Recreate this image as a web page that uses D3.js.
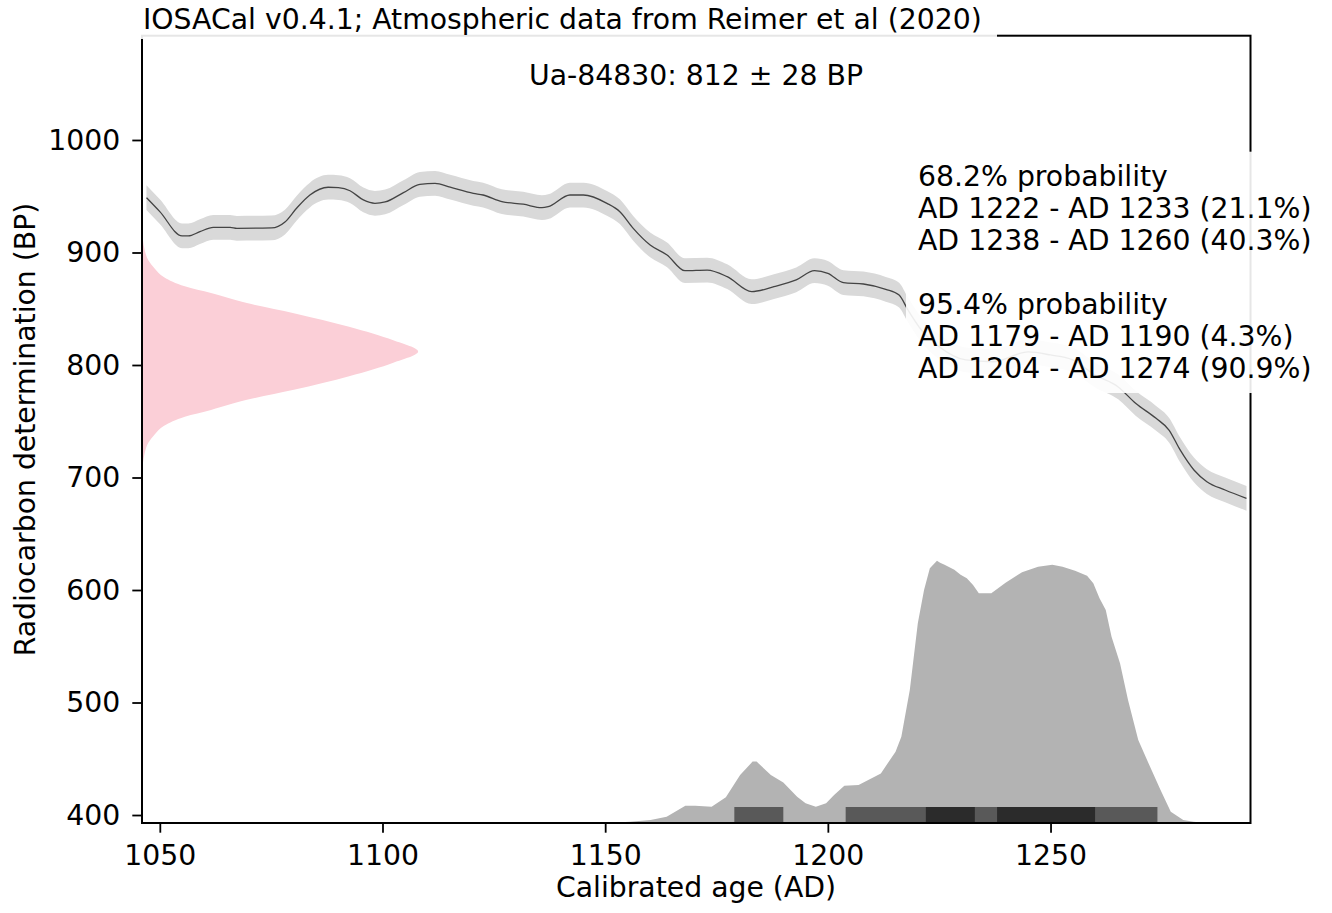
<!DOCTYPE html>
<html><head><meta charset="utf-8">
<script src="https://cdn.jsdelivr.net/npm/d3@7"></script>
<style>
html,body{margin:0;padding:0;background:#fff;}
svg text{font-family:"DejaVu Sans",sans-serif;fill:#000;}
</style></head><body>
<svg id="chart" width="1332" height="913"></svg>
<script>
// ---------------- data ----------------
const titleText = "IOSACal v0.4.1; Atmospheric data from Reimer et al (2020)";
const sampleLabel = "Ua-84830: 812 ± 28 BP";
const xLabel = "Calibrated age (AD)";
const yLabel = "Radiocarbon determination (BP)";
const xTicks = [1050, 1100, 1150, 1200, 1250];
const yTicks = [400, 500, 600, 700, 800, 900, 1000];

// calibration curve (IntCal20)
const curveYears = [1047,1050,1055,1056.4,1059,1062,1065.8,1067.3,1075.1,1078.1,1080.7,1083.7,1087.8,1090.1,1092.7,1095.7,1098.3,1100.6,1104.7,1108.4,1111.8,1115.2,1120.4,1122.6,1126.8,1131.6,1135.8,1137.2,1142.1,1145.1,1150.4,1153.3,1156.3,1160.1,1163.9,1167.9,1172.9,1177.4,1182.9,1187.9,1192.9,1197,1200,1203.5,1208,1213,1216,1218,1221,1225,1231,1237,1245,1250,1255,1260,1265.2,1269.1,1273.7,1276.6,1279.1,1282.2,1285.1,1289.2,1294];
const curveBP = [948.7,936.3,914.7,914.7,918.5,922.4,922.4,921.5,921.8,927.1,939.3,951.1,958,957.6,954.9,946.7,943.7,944.9,953.2,960.6,961.5,958,952.6,951.1,945.2,942.9,939.8,940.7,951.1,951.1,943.7,936.3,921.5,906.7,897.8,883.8,884.4,878.5,865.2,869.6,875.6,883.8,881.5,873.2,872,867.3,862.2,848.9,831.1,816.3,804.5,802.9,811.6,808.9,804.5,791.1,780.5,766,752.6,742.2,724.5,706.7,696.3,688.9,681.5];
const curveErr = [11,11,11,11,11,11,11,11,11,11,11,11,11,11,11,11,11,11,11,11,11,11,11,11,11,11,11,11,11,11,11,11,11,11,11,11,11,11,11,11,11,11,11,11,11,11,11,11,11,11,11,11,11,11,11,11,11,11,11,11,11,11,11,11,11];

// radiocarbon date distribution (relative density by BP)
const pinkBP  = [700,712,722,731,738,746,754,760,769,778,790,802,812,822,834,846,855,864,870,878,886,893,902,912,924];
const pinkRel = [0,0.003,0.01,0.023,0.045,0.080,0.155,0.250,0.380,0.550,0.750,0.910,1,0.910,0.750,0.550,0.380,0.250,0.155,0.080,0.045,0.023,0.01,0.003,0];

// calibrated distribution (relative probability by calendar year)
const calYears = [1150,1155.6,1160.2,1163.8,1168,1170.2,1173.9,1177.1,1180.3,1183.1,1184,1187.2,1190,1193.1,1195,1197.3,1199.6,1201.4,1203.7,1206.9,1210.6,1211.9,1215.2,1216.5,1218.4,1220.2,1221.6,1222.9,1224.5,1225.2,1226.2,1228.4,1229.8,1231.2,1232.6,1233.9,1236.7,1239.9,1243.6,1247.2,1250.4,1252.7,1255.5,1258.2,1259.6,1261,1262.4,1263.7,1265.6,1267.4,1269.7,1272,1274.7,1277,1279.8,1282.1,1285];
const calProb  = [0,0.005,0.011,0.024,0.066,0.066,0.062,0.098,0.183,0.234,0.234,0.183,0.154,0.100,0.075,0.062,0.075,0.107,0.142,0.145,0.177,0.189,0.272,0.329,0.507,0.761,0.888,0.971,1.0,0.992,0.984,0.965,0.946,0.933,0.907,0.876,0.876,0.916,0.956,0.977,0.984,0.977,0.961,0.942,0.914,0.857,0.812,0.710,0.609,0.469,0.316,0.228,0.126,0.043,0.011,0.005,0];

// highest density ranges: [from, to, percent]
const hpd68 = [[1222, 1233, 21.1], [1238, 1260, 40.3]];
const hpd95 = [[1179, 1190, 4.3], [1204, 1274, 90.9]];
const hpdLevels = ["68.2% probability", "95.4% probability"];

// ---------------- layout ----------------
const L = 142, R = 1250.5, T = 35.7, B = 823;
const xDomain = [1046, 1294.9];
const yDomain = [392.9, 1092.7];
const FS = 28.3;
const pinkWidthYears = 62;     // peak width of date pdf in years
const calHeightBP = 233.2;     // peak height of calibrated pdf in BP units

const svg = d3.select("#chart");
const x = d3.scaleLinear().domain(xDomain).range([L, R]);
const y = d3.scaleLinear().domain(yDomain).range([B, T]);

svg.append("defs").append("clipPath").attr("id", "clip")
  .append("rect").attr("x", L).attr("y", T).attr("width", R - L).attr("height", B - T);
const plot = svg.append("g").attr("clip-path", "url(#clip)");

const curve = curveYears.map((yr, i) => ({year: yr, bp: curveBP[i], err: curveErr[i]}));
plot.append("path").datum(curve)
  .attr("fill", "#d9d9d9")
  .attr("d", d3.area().curve(d3.curveMonotoneX)
    .x(d => x(d.year)).y0(d => y(d.bp - d.err)).y1(d => y(d.bp + d.err)));
plot.append("path").datum(curve)
  .attr("fill", "none").attr("stroke", "#444").attr("stroke-width", 1.3)
  .attr("d", d3.line().curve(d3.curveMonotoneX).x(d => x(d.year)).y(d => y(d.bp)));

// date pdf
const pink = pinkBP.map((b, i) => ({bp: b, rel: pinkRel[i]}));
plot.append("path").datum(pink)
  .attr("fill", "#fbcfd7")
  .attr("d", d3.area().curve(d3.curveMonotoneY)
    .y(d => y(d.bp)).x0(x(xDomain[0])).x1(d => x(xDomain[0] + d.rel * pinkWidthYears)));

// calibrated pdf
const cal = calYears.map((yr, i) => ({year: yr, p: calProb[i]}));
plot.append("path").datum(cal)
  .attr("fill", "#b3b3b3")
  .attr("d", d3.area().x(d => x(d.year)).y0(y(yDomain[0])).y1(d => y(yDomain[0] + d.p * calHeightBP)));

// HPD bars
const barTop = B - 16, barH = 16;
plot.selectAll("rect.h95").data(hpd95).join("rect").attr("class", "h95")
  .attr("x", d => x(d[0])).attr("width", d => x(d[1]) - x(d[0]))
  .attr("y", barTop).attr("height", barH).attr("fill", "#595959");
plot.selectAll("rect.h68").data(hpd68).join("rect").attr("class", "h68")
  .attr("x", d => x(d[0])).attr("width", d => x(d[1]) - x(d[0]))
  .attr("y", barTop).attr("height", barH).attr("fill", "#2b2b2b");

// axes
const xAxis = d3.axisBottom(x).tickValues(xTicks).tickFormat(d3.format("d"))
  .tickSize(9.7).tickSizeOuter(0).tickPadding(12);
const gx = svg.append("g").attr("transform", `translate(0,${B})`).call(xAxis);
const yAxis = d3.axisLeft(y).tickValues(yTicks).tickFormat(d3.format("d"))
  .tickSize(9.7).tickSizeOuter(0).tickPadding(12);
const gy = svg.append("g").attr("transform", `translate(${L},0)`).call(yAxis);
[gx, gy].forEach(g => {
  g.select(".domain").remove();
  g.selectAll(".tick line").attr("stroke", "#000").attr("stroke-width", 1.8);
  g.selectAll(".tick text").attr("font-size", FS).attr("font-family", "DejaVu Sans").attr("fill", "#000");
});

// spines
const sp = svg.append("g").attr("stroke", "#000").attr("stroke-width", 2).attr("fill", "none");
sp.append("rect").attr("x", L).attr("y", T).attr("width", R - L).attr("height", B - T);

// labels
svg.append("text").attr("x", 696).attr("y", 85).attr("text-anchor", "middle")
  .attr("font-size", FS).text(sampleLabel);
svg.append("text").attr("x", 696).attr("y", 897).attr("text-anchor", "middle")
  .attr("font-size", FS).text(xLabel);
svg.append("text").attr("transform", "translate(35,429.5) rotate(-90)").attr("text-anchor", "middle")
  .attr("font-size", FS).text(yLabel);

// title box (semi-transparent white, like the legend boxes)
svg.append("rect").attr("x", 137).attr("y", -2).attr("width", 860).attr("height", 41)
  .attr("fill", "#fff").attr("fill-opacity", 0.9);
svg.append("text").attr("x", 143).attr("y", 28.5).attr("font-size", FS).text(titleText);

// probability box
svg.append("rect").attr("x", 906).attr("y", 151.7).attr("width", 416).attr("height", 241.3)
  .attr("fill", "#fff").attr("fill-opacity", 0.9);
const fmt = d => `AD ${d[0]} - AD ${d[1]} (${d[2]}%)`;
const lines = [hpdLevels[0], ...hpd68.map(fmt), "", hpdLevels[1], ...hpd95.map(fmt)];
svg.append("g").selectAll("text").data(lines).join("text")
  .attr("x", 918).attr("y", (d, i) => 185.5 + i * 32)
  .attr("font-size", FS).text(d => d);
</script>
</body></html>
